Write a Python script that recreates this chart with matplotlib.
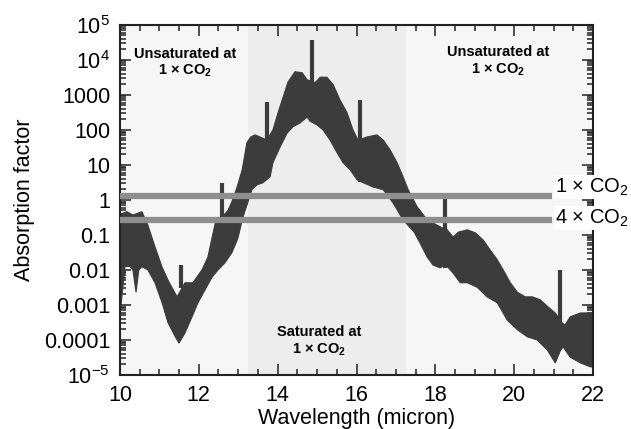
import numpy as np
import matplotlib
matplotlib.use("Agg")
import matplotlib.pyplot as plt
from matplotlib.ticker import FixedLocator, FixedFormatter, LogLocator, NullFormatter, MultipleLocator

plt.rcParams['font.family'] = ['Liberation Sans', 'DejaVu Sans']
plt.rcParams['mathtext.fontset'] = 'custom'
plt.rcParams['mathtext.rm'] = 'Liberation Sans'
plt.rcParams['mathtext.it'] = 'Liberation Sans:italic'
plt.rcParams['mathtext.bf'] = 'Liberation Sans:bold'

# ---- data ----
# upper envelope of the absorption band
wl_upper = [10.0, 10.03, 10.18, 10.33, 10.56, 10.71, 10.89, 11.07, 11.22, 11.45, 11.65, 11.85,
            12.08, 12.23, 12.34, 12.44, 12.59, 12.74, 12.84, 12.97, 13.10, 13.22, 13.32, 13.43,
            13.55, 13.73, 13.88, 14.01, 14.14, 14.26, 14.44, 14.62, 14.75, 14.95, 15.08, 15.25,
            15.41, 15.58, 15.76, 15.91, 16.04, 16.27, 16.52, 16.68, 16.85, 17.03, 17.18, 17.31,
            17.54, 17.74, 17.94, 18.17, 18.30, 18.45, 18.58, 18.81, 19.01, 19.21, 19.39, 19.57,
            19.72, 19.90, 20.08, 20.28, 20.46, 20.66, 20.86, 21.04, 21.22, 21.29, 21.42, 21.68, 22.0]
upper = [0.3, 0.4, 0.46, 0.37, 0.46, 0.19, 0.046, 0.012, 0.0051, 0.0017, 0.0043, 0.0043,
         0.01, 0.023, 0.087, 0.28, 0.32, 0.5, 0.89, 2.3, 7.2, 43, 63, 72,
         63, 51, 100, 310, 870, 2300, 4600, 4300, 2700, 2240, 3200, 3200,
         1950, 720, 310, 100, 51, 63, 72, 51, 27, 11.5, 4.6, 1.95,
         0.63, 0.32, 0.22, 0.16, 0.14, 0.087, 0.12, 0.14, 0.115, 0.072, 0.037, 0.0195,
         0.01, 0.0043, 0.0023, 0.0017, 0.0017, 0.0014, 0.00087, 0.00059, 0.0003, 0.00027, 0.00046, 0.00059, 0.00059]

# lower envelope of the absorption band
wl_lower = [10.0, 10.03, 10.13, 10.25, 10.33, 10.41, 10.48, 10.56, 10.71, 10.89, 11.07, 11.22,
            11.40, 11.50, 11.65, 11.83, 11.98, 12.16, 12.34, 12.49, 12.66, 12.84, 12.99, 13.12,
            13.25, 13.35, 13.48, 13.63, 13.81, 13.88, 14.06, 14.24, 14.39, 14.57, 14.75, 14.82,
            15.00, 15.15, 15.33, 15.51, 15.66, 15.84, 16.02, 16.17, 16.42, 16.68, 16.93, 17.18,
            17.36, 17.45, 17.61, 17.79, 17.94, 18.12, 18.25, 18.38, 18.45, 18.63, 18.81, 19.06,
            19.31, 19.57, 19.82, 20.08, 20.33, 20.58, 20.84, 21.04, 21.17, 21.24, 21.42, 21.68, 21.93, 22.0]
lower = [0.001, 0.001, 0.0126, 0.0126, 0.01, 0.0023, 0.01, 0.0123, 0.01, 0.0043, 0.00115, 0.00031,
         0.000126, 0.000081, 0.000158, 0.00046, 0.00115, 0.0027, 0.0063, 0.01, 0.0158, 0.031, 0.079, 0.32,
         0.89, 2.0, 2.7, 3.1, 4.6, 11.5, 32, 81, 123, 158, 234, 178,
         138, 100, 51, 22, 11.5, 7.2, 3.7, 3.1, 2.34, 1.95, 0.81, 0.27,
         0.16, 0.126, 0.059, 0.0234, 0.0138, 0.0115, 0.014, 0.01, 0.0081, 0.0043, 0.0043, 0.0032,
         0.0017, 0.00115, 0.00037, 0.000195, 0.000123, 0.0001, 0.000051, 0.000022, 0.00005, 0.000063, 0.000032, 0.000022, 0.000017, 0.000017]

# narrow spectral lines sticking out of the band
spike_wl = [11.56, 12.59, 13.73, 14.87, 16.08, 18.25, 21.17]
spike_top = [0.0138, 3.1, 630, 37000, 720, 1.15, 0.01]
spike_base = [0.003, 0.25, 30, 1000, 3.2, 0.0115, 0.0001]

# CO2 threshold lines
co2_labels = [r"1 × CO$_2$", r"4 × CO$_2$"]
co2_levels = [1.3, 0.27]
co2_label_y = [2.3, 0.3]

# region annotations
region_text = ["Unsaturated at\n" + r"1 × CO$_\mathbf{2}$",
               "Unsaturated at\n" + r"1 × CO$_\mathbf{2}$",
               "Saturated at\n" + r"1 × CO$_\mathbf{2}$"]
region_x = [11.65, 19.6, 15.05]
region_y = [8000, 9000, 0.00009]
saturated_span = [13.25, 17.25]

yticks = [1e-5, 1e-4, 1e-3, 1e-2, 1e-1, 1, 10, 100, 1000, 1e4, 1e5]
ytick_labels = [r"$10^{-5}$", "0.0001", "0.001", "0.01", "0.1", "1", "10", "100", "1000",
                r"$10^4$", r"$10^5$"]
xticks = [10, 12, 14, 16, 18, 20, 22]

# ---- figure ----
fig = plt.figure(figsize=(6.31, 4.29), dpi=100)
ax = fig.add_axes([0.190, 0.126, 0.750, 0.816])
ax.set_facecolor('#f6f6f6')
ax.axvspan(saturated_span[0], saturated_span[1], color='#ededed', zorder=0, lw=0)

ax.set_xscale('linear')
ax.set_yscale('log')
ax.set_xlim(10, 22)
ax.set_ylim(1e-5, 1e5)

band = '#3c3c3c'
poly_x = np.concatenate([wl_upper, wl_lower[::-1]])
poly_y = np.concatenate([upper, lower[::-1]])
ax.fill(poly_x, poly_y, color=band, lw=0.8, ec=band, zorder=2)
ax.vlines(spike_wl, spike_base, spike_top, color=band, lw=3, zorder=2)

for lab, lev, ly in zip(co2_labels, co2_levels, co2_label_y):
    ax.plot([10, 20.96], [lev, lev], color='#8e8e8e', lw=4.5, solid_capstyle='butt',
            zorder=3, clip_on=False)
    ax.text(21.04, ly, lab, fontsize=14.5, ha='left', va='center', zorder=5,
            clip_on=False, bbox=dict(fc='white', ec='none', pad=1.0))

for t, x, y in zip(region_text, region_x, region_y):
    ax.text(x, y, t, fontsize=10.5, fontweight='bold', ha='center', va='center',
            linespacing=1.15, zorder=4)

ax.yaxis.set_major_locator(FixedLocator(yticks))
ax.yaxis.set_major_formatter(FixedFormatter(ytick_labels))
ax.yaxis.set_minor_locator(LogLocator(base=10, subs=np.arange(2, 10), numticks=30))
ax.yaxis.set_minor_formatter(NullFormatter())
ax.xaxis.set_major_locator(FixedLocator(xticks))
ax.xaxis.set_minor_locator(MultipleLocator(0.5))

ax.tick_params(which='both', direction='in', top=True, right=True, width=1.1, color='#222222')
ax.tick_params(which='major', length=8, labelsize=15.5, pad=7)
ax.tick_params(which='minor', length=4)
for s in ax.spines.values():
    s.set_linewidth(1.5)
    s.set_color('#222222')

ax.set_xlabel("Wavelength (micron)", fontsize=15.5, labelpad=2)
ax.set_ylabel("Absorption factor", fontsize=15.5, labelpad=6)

fig.savefig("out.png", dpi=100, facecolor='white')
